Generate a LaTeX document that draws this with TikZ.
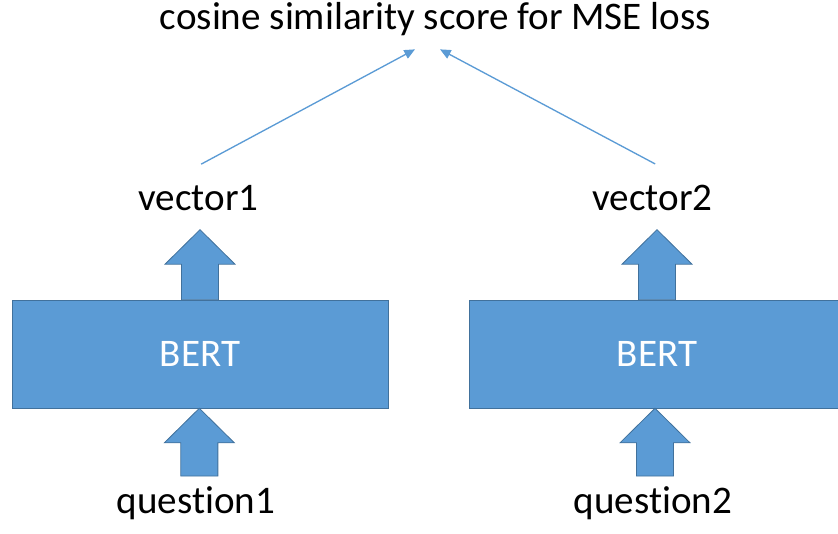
\documentclass[tikz,border=0pt]{standalone}
\usepackage{fontspec}
\setmainfont{Carlito}[Ligatures=NoCommon]
\usepackage{tikz}
\usetikzlibrary{positioning,calc,arrows.meta}
\definecolor{bertblue}{HTML}{5B9BD5}
\definecolor{bertedge}{HTML}{41719C}

\begin{document}
\begin{tikzpicture}[x=0.75pt,y=-0.75pt,
  every node/.style={font=\fontsize{29.3}{35}\selectfont},
  bert/.style={draw=bertedge,fill=bertblue,text=white,minimum width=282pt,minimum height=81pt,inner sep=0pt},
  simarrow/.style={draw=bertblue,line width=1pt,-{Triangle[length=8pt,width=7pt]}},
  fatarrow/.style={draw=bertedge,fill=bertblue,line width=0.6pt,
    to path={let \p1=(\tikztostart),\p2=(\tikztotarget) in
      (\x1-13.9pt,\y1) -- (\x1-13.9pt,\y2-25.9pt) -- (\x1-26.25pt,\y2-25.9pt) -- (\x1,\y2)
      -- (\x1+26.25pt,\y2-25.9pt) -- (\x1+13.9pt,\y2-25.9pt) -- (\x1+13.9pt,\y1) -- cycle}}]
  \useasboundingbox (0,0) rectangle (838,533);
  \node (title) [anchor=base] at (435.5,29) {cosine similarity score for MSE loss};
  \node (vec1) [anchor=base] at (198.5,210) {vector1};
  \node (vec2) [anchor=base] at (652.5,210) {vector2};
  \node (bert1) [bert] at (200,354) {BERT};
  \node (bert2) [bert] at (657,354) {BERT};
  \node (q1) [anchor=base] at (196,513) {question1};
  \node (q2) [anchor=base] at (653,513) {question2};
  % fat arrows into and out of the encoders
  \draw[fatarrow] (bert1.north) to ([yshift=-11pt]vec1.south);
  \draw[fatarrow] (bert2.north) to ([yshift=-11pt]vec2.south);
  \draw[fatarrow] ([xshift=2.5pt,yshift=4pt]q1.north) to (bert1.south);
  \draw[fatarrow] ([xshift=1.5pt,yshift=4pt]q2.north) to (bert2.south);
  % similarity
  \draw[simarrow] ([xshift=2pt,yshift=12pt]vec1.north) -- ([xshift=-15.4pt,yshift=-7pt]title.south);
  \draw[simarrow] ([xshift=2pt,yshift=12pt]vec2.north) -- ([xshift=3.4pt,yshift=-7pt]title.south);
\end{tikzpicture}
\end{document}
